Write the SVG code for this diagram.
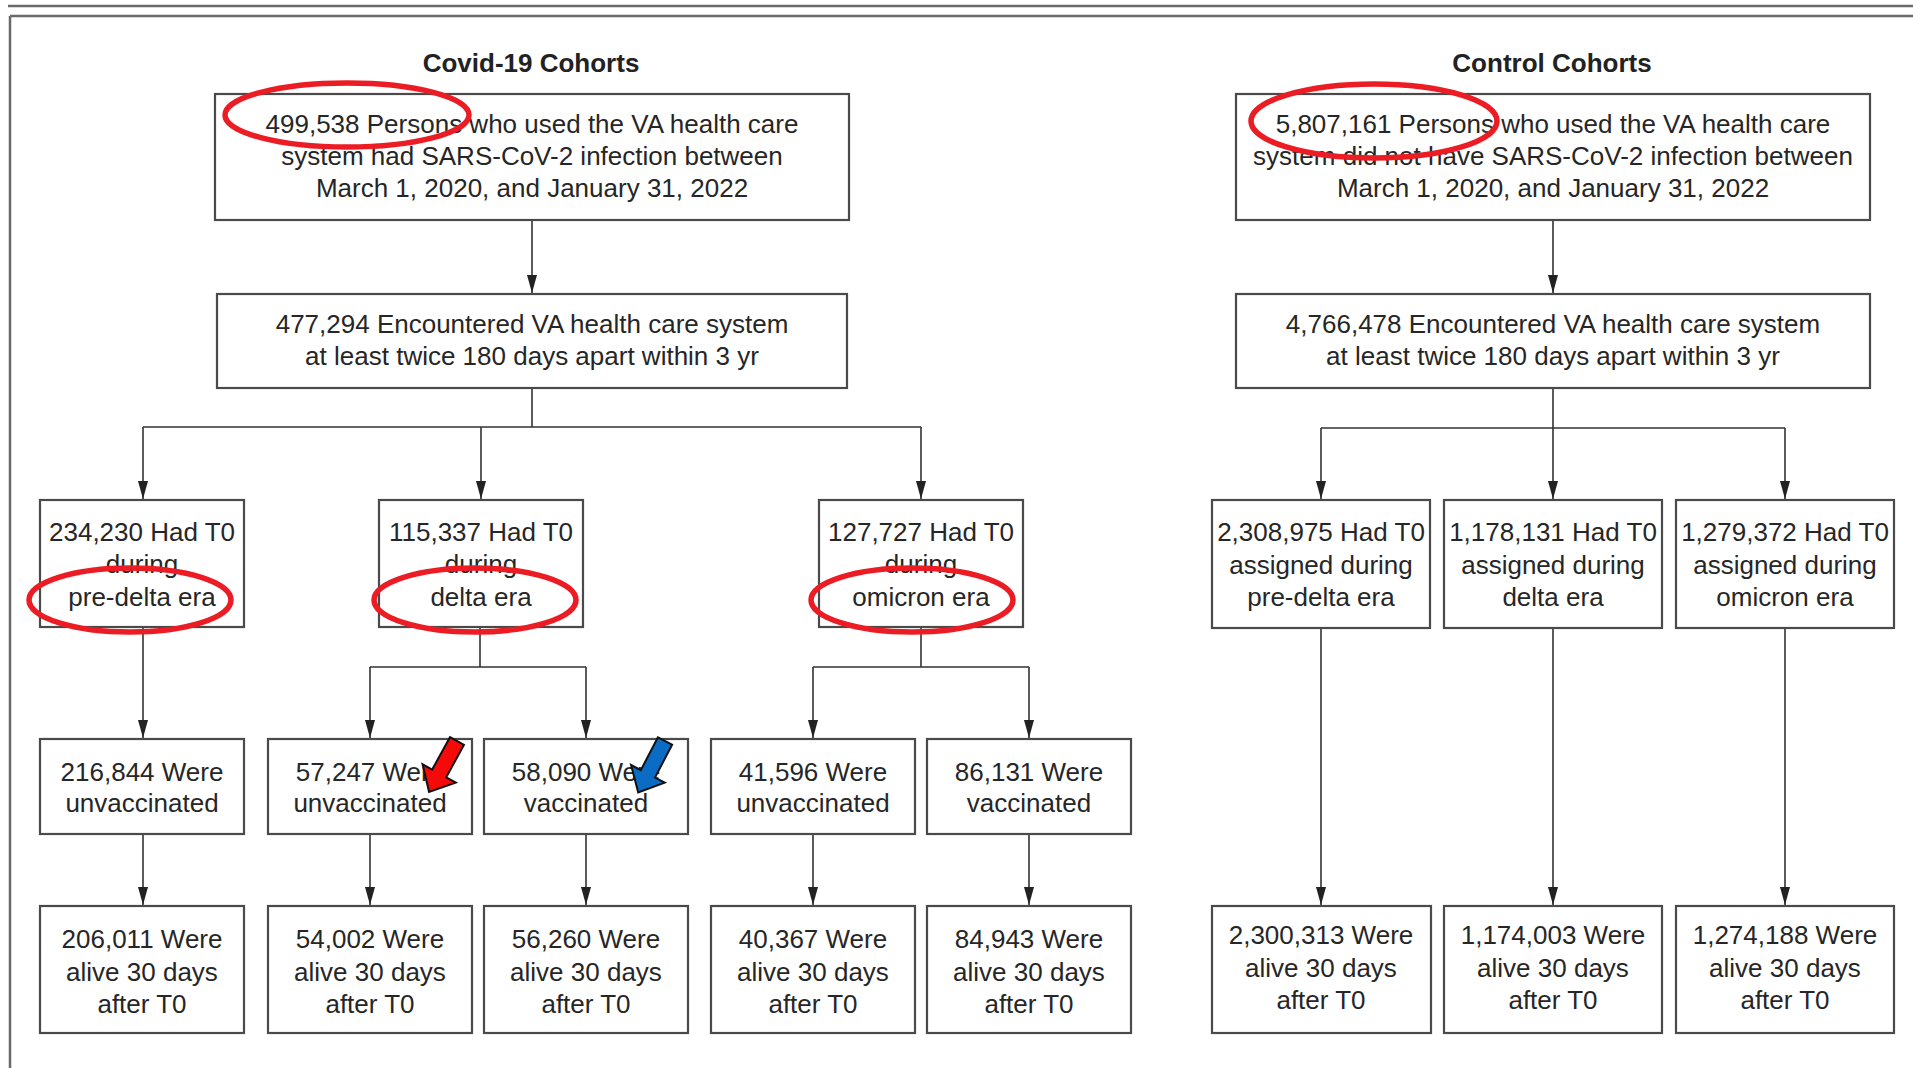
<svg xmlns="http://www.w3.org/2000/svg" width="1913" height="1068" viewBox="0 0 1913 1068">
<defs>
<style>
.bg{fill:#ffffff}
.frame{stroke:#6a6a6a;stroke-width:2.5;fill:none}
.box{fill:#ffffff;stroke:#4a4a4a;stroke-width:2.2}
.t{font-family:"Liberation Sans",Arial,sans-serif;font-size:26px;fill:#262626;text-anchor:middle}
.title{font-family:"Liberation Sans",Arial,sans-serif;font-size:26px;font-weight:bold;fill:#222;text-anchor:middle}
.conn{stroke:#333;stroke-width:1.6;fill:none}
.arr{marker-end:url(#ah)}
.ring{fill:none;stroke:#ec1c24;stroke-width:5.5}
.blk{stroke:#111;stroke-width:2;stroke-linejoin:miter}
</style>
<marker id="ah" viewBox="0 0 18 10" refX="18" refY="5" markerWidth="18" markerHeight="10" markerUnits="userSpaceOnUse" orient="auto">
<path d="M0,0 L18,5 L0,10 Z" fill="#222"/>
</marker>
</defs>
<rect class="bg" x="0" y="0" width="1913" height="1068"/>
<g id="frame">
<line class="frame" x1="8" y1="6" x2="1913" y2="6" stroke-width="2"/>
<line class="frame" x1="10" y1="16" x2="1913" y2="16"/>
<line class="frame" x1="10" y1="16" x2="10" y2="1068"/>
</g>
<g id="titles">
<text class="title" x="531" y="72">Covid-19 Cohorts</text>
<text class="title" x="1552" y="72">Control Cohorts</text>
</g>
<g id="connectors">
<line class="conn arr" x1="532" y1="220" x2="532" y2="293"/>
<path class="conn" d="M532,388 V427 M143,427 H921"/>
<line class="conn arr" x1="143" y1="427" x2="143" y2="499"/>
<line class="conn arr" x1="481" y1="427" x2="481" y2="499"/>
<line class="conn arr" x1="921" y1="427" x2="921" y2="499"/>
<line class="conn arr" x1="143" y1="627" x2="143" y2="738"/>
<path class="conn" d="M480,627 V667 M370,667 H586 M921,627 V667 M813,667 H1029"/>
<line class="conn arr" x1="370" y1="667" x2="370" y2="738"/>
<line class="conn arr" x1="586" y1="667" x2="586" y2="738"/>
<line class="conn arr" x1="813" y1="667" x2="813" y2="738"/>
<line class="conn arr" x1="1029" y1="667" x2="1029" y2="738"/>
<line class="conn arr" x1="143" y1="834" x2="143" y2="905"/>
<line class="conn arr" x1="370" y1="834" x2="370" y2="905"/>
<line class="conn arr" x1="586" y1="834" x2="586" y2="905"/>
<line class="conn arr" x1="813" y1="834" x2="813" y2="905"/>
<line class="conn arr" x1="1029" y1="834" x2="1029" y2="905"/>
<line class="conn arr" x1="1553" y1="220" x2="1553" y2="293"/>
<path class="conn" d="M1553,388 V428 M1321,428 H1785"/>
<line class="conn arr" x1="1321" y1="428" x2="1321" y2="499"/>
<line class="conn arr" x1="1553" y1="428" x2="1553" y2="499"/>
<line class="conn arr" x1="1785" y1="428" x2="1785" y2="499"/>
<line class="conn arr" x1="1321" y1="628" x2="1321" y2="905"/>
<line class="conn arr" x1="1553" y1="628" x2="1553" y2="905"/>
<line class="conn arr" x1="1785" y1="628" x2="1785" y2="905"/>
</g>
<g id="n-covid-total">
<rect class="box" x="215" y="94" width="634" height="126"/>
<text class="t" x="532" y="133">499,538 Persons who used the VA health care</text>
<text class="t" x="532" y="165">system had SARS-CoV-2 infection between</text>
<text class="t" x="532" y="197">March 1, 2020, and January 31, 2022</text>
</g>
<g id="n-covid-encountered">
<rect class="box" x="217" y="294" width="630" height="94"/>
<text class="t" x="532" y="333">477,294 Encountered VA health care system</text>
<text class="t" x="532" y="365">at least twice 180 days apart within 3 yr</text>
</g>
<g id="n-control-total">
<rect class="box" x="1236" y="94" width="634" height="126"/>
<text class="t" x="1553" y="133">5,807,161 Persons who used the VA health care</text>
<text class="t" x="1553" y="165">system did not have SARS-CoV-2 infection between</text>
<text class="t" x="1553" y="197">March 1, 2020, and January 31, 2022</text>
</g>
<g id="n-control-encountered">
<rect class="box" x="1236" y="294" width="634" height="94"/>
<text class="t" x="1553" y="333">4,766,478 Encountered VA health care system</text>
<text class="t" x="1553" y="365">at least twice 180 days apart within 3 yr</text>
</g>
<g id="n-covid-predelta">
<rect class="box" x="40" y="500" width="204" height="127"/>
<text class="t" x="142" y="541">234,230 Had T0</text>
<text class="t" x="142" y="573">during</text>
<text class="t" x="142" y="606">pre-delta era</text>
</g>
<g id="n-covid-delta">
<rect class="box" x="379" y="500" width="204" height="127"/>
<text class="t" x="481" y="541">115,337 Had T0</text>
<text class="t" x="481" y="573">during</text>
<text class="t" x="481" y="606">delta era</text>
</g>
<g id="n-covid-omicron">
<rect class="box" x="819" y="500" width="204" height="127"/>
<text class="t" x="921" y="541">127,727 Had T0</text>
<text class="t" x="921" y="573">during</text>
<text class="t" x="921" y="606">omicron era</text>
</g>
<g id="n-control-predelta">
<rect class="box" x="1212" y="500" width="218" height="128"/>
<text class="t" x="1321" y="541">2,308,975 Had T0</text>
<text class="t" x="1321" y="574">assigned during</text>
<text class="t" x="1321" y="606">pre-delta era</text>
</g>
<g id="n-control-delta">
<rect class="box" x="1444" y="500" width="218" height="128"/>
<text class="t" x="1553" y="541">1,178,131 Had T0</text>
<text class="t" x="1553" y="574">assigned during</text>
<text class="t" x="1553" y="606">delta era</text>
</g>
<g id="n-control-omicron">
<rect class="box" x="1676" y="500" width="218" height="128"/>
<text class="t" x="1785" y="541">1,279,372 Had T0</text>
<text class="t" x="1785" y="574">assigned during</text>
<text class="t" x="1785" y="606">omicron era</text>
</g>
<g id="n-predelta-unvax">
<rect class="box" x="40" y="739" width="204" height="95"/>
<text class="t" x="142" y="781">216,844 Were</text>
<text class="t" x="142" y="812">unvaccinated</text>
</g>
<g id="n-delta-unvax">
<rect class="box" x="268" y="739" width="204" height="95"/>
<text class="t" x="370" y="781">57,247 Were</text>
<text class="t" x="370" y="812">unvaccinated</text>
</g>
<g id="n-delta-vax">
<rect class="box" x="484" y="739" width="204" height="95"/>
<text class="t" x="586" y="781">58,090 Were</text>
<text class="t" x="586" y="812">vaccinated</text>
</g>
<g id="n-omicron-unvax">
<rect class="box" x="711" y="739" width="204" height="95"/>
<text class="t" x="813" y="781">41,596 Were</text>
<text class="t" x="813" y="812">unvaccinated</text>
</g>
<g id="n-omicron-vax">
<rect class="box" x="927" y="739" width="204" height="95"/>
<text class="t" x="1029" y="781">86,131 Were</text>
<text class="t" x="1029" y="812">vaccinated</text>
</g>
<g id="n-alive-1">
<rect class="box" x="40" y="906" width="204" height="127"/>
<text class="t" x="142" y="948">206,011 Were</text>
<text class="t" x="142" y="981">alive 30 days</text>
<text class="t" x="142" y="1013">after T0</text>
</g>
<g id="n-alive-2">
<rect class="box" x="268" y="906" width="204" height="127"/>
<text class="t" x="370" y="948">54,002 Were</text>
<text class="t" x="370" y="981">alive 30 days</text>
<text class="t" x="370" y="1013">after T0</text>
</g>
<g id="n-alive-3">
<rect class="box" x="484" y="906" width="204" height="127"/>
<text class="t" x="586" y="948">56,260 Were</text>
<text class="t" x="586" y="981">alive 30 days</text>
<text class="t" x="586" y="1013">after T0</text>
</g>
<g id="n-alive-4">
<rect class="box" x="711" y="906" width="204" height="127"/>
<text class="t" x="813" y="948">40,367 Were</text>
<text class="t" x="813" y="981">alive 30 days</text>
<text class="t" x="813" y="1013">after T0</text>
</g>
<g id="n-alive-5">
<rect class="box" x="927" y="906" width="204" height="127"/>
<text class="t" x="1029" y="948">84,943 Were</text>
<text class="t" x="1029" y="981">alive 30 days</text>
<text class="t" x="1029" y="1013">after T0</text>
</g>
<g id="n-control-alive-1">
<rect class="box" x="1212" y="906" width="219" height="127"/>
<text class="t" x="1321" y="944">2,300,313 Were</text>
<text class="t" x="1321" y="977">alive 30 days</text>
<text class="t" x="1321" y="1009">after T0</text>
</g>
<g id="n-control-alive-2">
<rect class="box" x="1444" y="906" width="218" height="127"/>
<text class="t" x="1553" y="944">1,174,003 Were</text>
<text class="t" x="1553" y="977">alive 30 days</text>
<text class="t" x="1553" y="1009">after T0</text>
</g>
<g id="n-control-alive-3">
<rect class="box" x="1676" y="906" width="218" height="127"/>
<text class="t" x="1785" y="944">1,274,188 Were</text>
<text class="t" x="1785" y="977">alive 30 days</text>
<text class="t" x="1785" y="1009">after T0</text>
</g>
<g id="annotations">
<ellipse class="ring" cx="347" cy="115" rx="122" ry="32"/>
<ellipse class="ring" cx="1374" cy="121" rx="123" ry="37"/>
<ellipse class="ring" cx="130" cy="600" rx="101" ry="32"/>
<ellipse class="ring" cx="475" cy="600" rx="101" ry="32"/>
<ellipse class="ring" cx="912" cy="600" rx="101" ry="32"/>
<polygon class="blk" fill="#f50a0a" points="0,-8 37,-8 37,-19 58,0 37,19 37,8 0,8" transform="translate(457,741) rotate(118.8)"/>
<polygon class="blk" fill="#0a6cc4" points="0,-8 37,-8 37,-19 58,0 37,19 37,8 0,8" transform="translate(665,741) rotate(117.5)"/>
</g>
</svg>
